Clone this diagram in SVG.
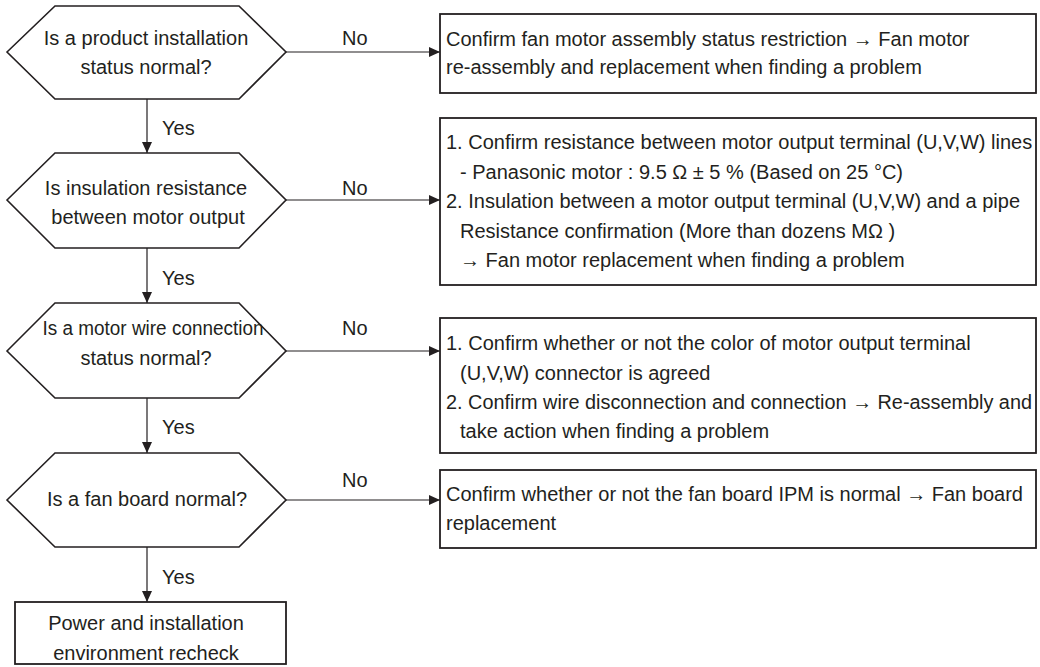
<svg xmlns="http://www.w3.org/2000/svg" width="1040" height="667" viewBox="0 0 1040 667">
<defs>
<style>
text{font-family:"Liberation Sans",Arial,sans-serif;font-size:20px;fill:#231f20}
.c{text-anchor:middle}
.shape{fill:#fff;stroke:#231f20;stroke-width:1.6}
.box{fill:#fff;stroke:#231f20;stroke-width:1.8}
.line{fill:none;stroke:#231f20;stroke-width:1.2}
</style>
<marker id="ah" markerUnits="userSpaceOnUse" markerWidth="12" markerHeight="11" refX="11" refY="5" orient="auto">
<path d="M0,0 L11,5 L0,10 z" fill="#231f20"/>
</marker>
</defs>
<rect width="1040" height="667" fill="#fff"/>

<g id="connectors">
<line class="line" x1="147" y1="99" x2="147" y2="153" marker-end="url(#ah)"/>
<line class="line" x1="147" y1="248" x2="147" y2="303" marker-end="url(#ah)"/>
<line class="line" x1="147" y1="398" x2="147" y2="453" marker-end="url(#ah)"/>
<line class="line" x1="147" y1="547" x2="147" y2="602" marker-end="url(#ah)"/>
<line class="line" x1="286" y1="52" x2="440" y2="52" marker-end="url(#ah)"/>
<line class="line" x1="286" y1="200" x2="440" y2="200" marker-end="url(#ah)"/>
<line class="line" x1="286" y1="351" x2="440" y2="351" marker-end="url(#ah)"/>
<line class="line" x1="286" y1="500" x2="440" y2="500" marker-end="url(#ah)"/>
<text x="162" y="135">Yes</text>
<text x="162" y="285">Yes</text>
<text x="162" y="434">Yes</text>
<text x="162" y="584">Yes</text>
<text x="342" y="45">No</text>
<text x="342" y="195">No</text>
<text x="342" y="335">No</text>
<text x="342" y="487">No</text>
</g>

<g id="q1">
<polygon class="shape" points="7,52 55,6 239,6 286,52 239,99 55,99"/>
<text class="c" x="146" y="45">Is a product installation</text>
<text class="c" x="146" y="74">status normal?</text>
</g>
<g id="q2">
<polygon class="shape" points="7,200 55,153 239,153 286,200 239,248 55,248"/>
<text class="c" x="146" y="195">Is insulation resistance</text>
<text class="c" x="148" y="224">between motor output</text>
</g>
<g id="q3">
<polygon class="shape" points="7,351 55,303 239,303 286,351 239,398 55,398"/>
<text class="c" x="153" y="335" textLength="221" lengthAdjust="spacingAndGlyphs">Is a motor wire connection</text>
<text class="c" x="146" y="365">status normal?</text>
</g>
<g id="q4">
<polygon class="shape" points="7,500 55,453 239,453 286,500 239,547 55,547"/>
<text class="c" x="147" y="506">Is a fan board normal?</text>
</g>
<g id="end">
<rect class="box" x="15" y="602" width="271" height="62"/>
<text class="c" x="146" y="630">Power and installation</text>
<text class="c" x="146" y="660">environment recheck</text>
</g>

<g id="a1">
<rect class="box" x="440" y="14" width="596" height="79"/>
<text x="446" y="46">Confirm fan motor assembly status restriction → Fan motor</text>
<text x="446" y="74">re-assembly and replacement when finding a problem</text>
</g>
<g id="a2">
<rect class="box" x="440" y="118" width="596" height="167"/>
<text x="446" y="149">1. Confirm resistance between motor output terminal (U,V,W) lines</text>
<text x="460" y="179">- Panasonic motor : 9.5 Ω ± 5 % (Based on 25 °C)</text>
<text x="446" y="208">2. Insulation between a motor output terminal (U,V,W) and a pipe</text>
<text x="460" y="238">Resistance confirmation (More than dozens MΩ )</text>
<text x="460" y="267">→ Fan motor replacement when finding a problem</text>
</g>
<g id="a3">
<rect class="box" x="440" y="318" width="596" height="135"/>
<text x="446" y="350">1. Confirm whether or not the color of motor output terminal</text>
<text x="460" y="380">(U,V,W) connector is agreed</text>
<text x="446" y="409" textLength="586" lengthAdjust="spacingAndGlyphs">2. Confirm wire disconnection and connection → Re-assembly and</text>
<text x="460" y="438">take action when finding a problem</text>
</g>
<g id="a4">
<rect class="box" x="440" y="470" width="596" height="78"/>
<text x="446" y="501">Confirm whether or not the fan board IPM is normal → Fan board</text>
<text x="446" y="530">replacement</text>
</g>
</svg>
